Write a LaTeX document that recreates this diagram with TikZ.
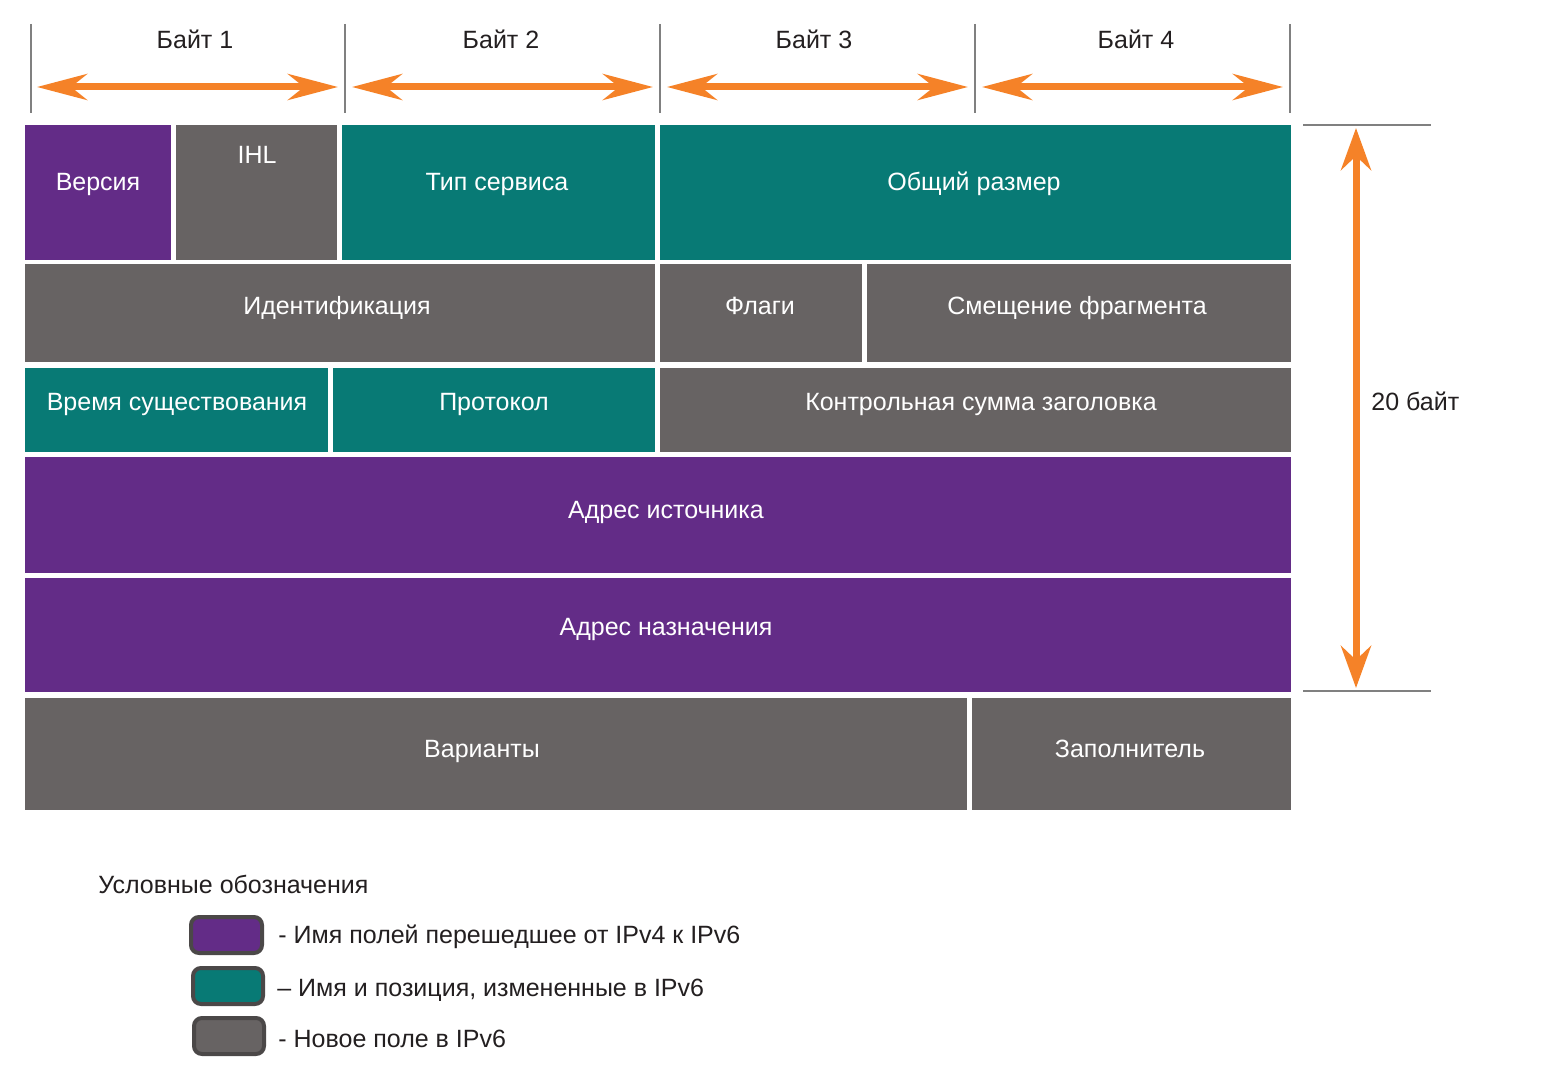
\documentclass[tikz,border=0pt]{standalone}
\usepackage{fontspec}
\setmainfont{Liberation Sans}
\usetikzlibrary{arrows.meta}

\definecolor{fldpurple}{RGB}{99,44,135}
\definecolor{fldteal}{RGB}{8,122,117}
\definecolor{fldgray}{RGB}{103,99,99}
\definecolor{orng}{RGB}{245,130,40}
\definecolor{tickgray}{RGB}{128,128,128}
\definecolor{boxrim}{RGB}{75,72,72}
\definecolor{txtdark}{RGB}{35,31,32}

\tikzset{
  lbl/.style={font=\fontsize{12.5}{15}\selectfont, text=white, anchor=base, inner sep=0pt},
  dlbl/.style={lbl, text=txtdark},
  tick/.style={draw=tickgray, line width=1.4pt},
  bytearrow/.style={draw=orng, line width=3.5pt,
    {Stealth[length=25pt,width=13pt,inset=8pt]}-{Stealth[length=25pt,width=13pt,inset=8pt]}},
  sizearrow/.style={draw=orng, line width=3.5pt,
    {Stealth[length=21pt,width=15pt,inset=7pt]}-{Stealth[length=21pt,width=15pt,inset=7pt]}},
  legbox/.style={draw=boxrim, line width=2pt, rounded corners=4pt}
}

\begin{document}
\begin{tikzpicture}[x=0.5pt,y=0.5pt,yscale=-1,xscale=1]
\useasboundingbox (0,0) rectangle (1560,1080);

%Straight Lines: byte ticks
\draw [tick] (31,24) -- (31,113) ;
\draw [tick] (345,24) -- (345,113) ;
\draw [tick] (660,24) -- (660,113) ;
\draw [tick] (975,24) -- (975,113) ;
\draw [tick] (1290,24) -- (1290,113) ;

%Straight Lines: byte arrows
\coordinate (b1l) at (37,87);  \coordinate (b1r) at (338,87);
\coordinate (b2l) at (352,87); \coordinate (b2r) at (653,87);
\coordinate (b3l) at (667,87); \coordinate (b3r) at (968,87);
\coordinate (b4l) at (982,87); \coordinate (b4r) at (1283,87);
\draw [bytearrow] (b1l) -- (b1r) ;
\draw [bytearrow] (b2l) -- (b2r) ;
\draw [bytearrow] (b3l) -- (b3r) ;
\draw [bytearrow] (b4l) -- (b4r) ;

% Text Node
\node [dlbl] (byte1) at (195,49) {Байт 1};
% Text Node
\node [dlbl] (byte2) at (501,49) {Байт 2};
% Text Node
\node [dlbl] (byte3) at (814,49) {Байт 3};
% Text Node
\node [dlbl] (byte4) at (1136,49) {Байт 4};

%Shape: Rectangle row 1
\fill [fldpurple] (25,125) rectangle (171,260) ;
\fill [fldgray] (176,125) rectangle (337,260) ;
\fill [fldteal] (342,125) rectangle (655,260) ;
\fill [fldteal] (660,125) rectangle (1291,260) ;
%Shape: Rectangle row 2
\fill [fldgray] (25,264) rectangle (655,362) ;
\fill [fldgray] (660,264) rectangle (862,362) ;
\fill [fldgray] (867,264) rectangle (1291,362) ;
%Shape: Rectangle row 3
\fill [fldteal] (25,368) rectangle (328,452) ;
\fill [fldteal] (333,368) rectangle (655,452) ;
\fill [fldgray] (660,368) rectangle (1291,452) ;
%Shape: Rectangle rows 4, 5
\fill [fldpurple] (25,457) rectangle (1291,573) ;
\fill [fldpurple] (25,578) rectangle (1291,692) ;
%Shape: Rectangle row 6
\fill [fldgray] (25,698) rectangle (967,810) ;
\fill [fldgray] (972,698) rectangle (1291,810) ;

% Text Node
\node [lbl] (ver) at (98,191) {Версия};
% Text Node
\node [lbl] (ihl) at (257,164) {IHL};
% Text Node
\node [lbl] (tos) at (497,191) {Тип сервиса};
% Text Node
\node [lbl] (len) at (974,191) {Общий размер};
% Text Node
\node [lbl] (ident) at (337,315) {Идентификация};
% Text Node
\node [lbl] (flags) at (760,315) {Флаги};
% Text Node
\node [lbl] (offs) at (1077,315) {Смещение фрагмента};
% Text Node
\node [lbl] (ttl) at (177,411) {Время существования};
% Text Node
\node [lbl] (proto) at (494,411) {Протокол};
% Text Node
\node [lbl] (csum) at (981,411) {Контрольная сумма заголовка};
% Text Node
\node [lbl] (src) at (666,519) {Адрес источника};
% Text Node
\node [lbl] (dst) at (666,636) {Адрес назначения};
% Text Node
\node [lbl] (opts) at (482,758) {Варианты};
% Text Node
\node [lbl] (pad) at (1130,758) {Заполнитель};

%Straight Lines: header size
\draw [tick] (1303,125) -- (1431,125) ;
\draw [tick] (1303,691) -- (1431,691) ;
\coordinate (st) at (1356,128);
\coordinate (sb) at (1356,688);
\draw [sizearrow] (st) -- (sb) ;
% Text Node
\node [dlbl, anchor=base west] (hsize) at (1371,411) {20 байт};

% Text Node
\node [dlbl, anchor=base west] (legend) at (98,893) {Условные обозначения};
%Shape: Rounded Rectangle
\draw [legbox, fill=fldpurple] (191,917) rectangle (262,953) ;
\draw [legbox, fill=fldteal] (193,968) rectangle (263,1004) ;
\draw [legbox, fill=fldgray] (194,1018) rectangle (264,1054) ;
% Text Node
\node [dlbl, anchor=base west] (leg1) at (278,943) {- Имя полей перешедшее от IPv4 к IPv6};
% Text Node
\node [dlbl, anchor=base west] (leg2) at (277,996) {– Имя и позиция, измененные в IPv6};
% Text Node
\node [dlbl, anchor=base west] (leg3) at (278,1047) {- Новое поле в IPv6};

\end{tikzpicture}
\end{document}
